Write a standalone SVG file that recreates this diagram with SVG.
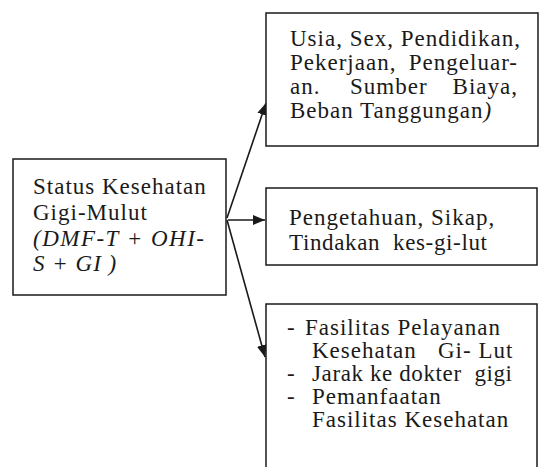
<svg xmlns="http://www.w3.org/2000/svg" width="544" height="467" viewBox="0 0 544 467">
<style>
.box{fill:#fff;stroke:#1a1a1a;stroke-width:1.5}
.t{font-family:"Liberation Serif","Times New Roman",serif;font-size:23px;fill:#1a1a1a;letter-spacing:1px}
.i{font-style:italic}
.c{stroke:#1a1a1a;stroke-width:1.6;fill:none;marker-end:url(#ah)}
</style>
<defs>
<marker id="ah" viewBox="0 0 12 10" refX="12" refY="5" markerWidth="12" markerHeight="10" markerUnits="userSpaceOnUse" orient="auto">
<path d="M0,0 L12,5 L0,10 Z" fill="#1a1a1a"/>
</marker>
</defs>
<g id="connectors">
<path class="c" d="M227,218 L266,103"/>
<path class="c" d="M228,220 L265,220"/>
<path class="c" d="M227,220 L265,357"/>
</g>
<g id="status">
<rect class="box" x="13" y="159" width="213" height="136"/>
<text class="t" x="33" y="194">Status Kesehatan</text>
<text class="t" x="33" y="220">Gigi-Mulut</text>
<text class="t i" x="33" y="246" textLength="172" lengthAdjust="spacing">(DMF-T + OHI-</text>
<text class="t i" x="33" y="271">S + GI )</text>
</g>
<g id="sosio">
<rect class="box" x="266" y="13" width="272" height="133"/>
<text class="t" x="290" y="46">Usia, Sex, Pendidikan,</text>
<text class="t" y="70"><tspan x="290">Pekerjaan,</tspan><tspan x="518" text-anchor="end">Pengeluar-</tspan></text>
<text class="t" y="94"><tspan x="290">an.</tspan><tspan x="350">Sumber</tspan><tspan x="518" text-anchor="end">Biaya,</tspan></text>
<text class="t" x="290" y="118">Beban Tanggungan<tspan class="i">)</tspan></text>
</g>
<g id="perilaku">
<rect class="box" x="266" y="188" width="271" height="77"/>
<text class="t" x="289" y="225">Pengetahuan, Sikap,</text>
<text class="t" x="289" y="250" textLength="199" lengthAdjust="spacing">Tindakan&#160; kes-gi-lut</text>
</g>
<g id="fasilitas">
<path class="box" d="M266,475 L266,304 L537,304 L537,475"/>
<text class="t" y="335"><tspan x="287">-</tspan><tspan x="305">Fasilitas Pelayanan</tspan></text>
<text class="t" y="358"><tspan x="312">Kesehatan</tspan><tspan x="438">Gi- Lut</tspan></text>
<text class="t" y="381"><tspan x="287">-</tspan></text>
<text class="t" x="312" y="381" textLength="201" lengthAdjust="spacing">Jarak ke dokter&#160; gigi</text>
<text class="t" y="404"><tspan x="287">-</tspan><tspan x="312">Pemanfaatan</tspan></text>
<text class="t" x="312" y="427">Fasilitas Kesehatan</text>
</g>
</svg>
